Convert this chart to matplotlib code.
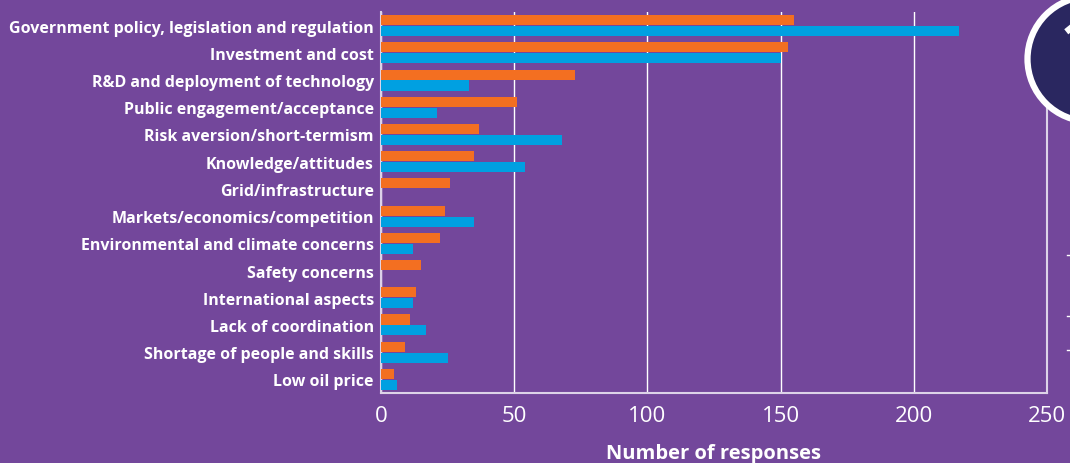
import numpy as np
import matplotlib
matplotlib.use("Agg")
import matplotlib.pyplot as plt
from matplotlib.patches import Circle
from matplotlib.lines import Line2D

categories = ["Government policy, legislation and regulation",
              "Investment and cost",
              "R&D and deployment of technology",
              "Public engagement/acceptance",
              "Risk aversion/short-termism",
              "Knowledge/attitudes",
              "Grid/infrastructure",
              "Markets/economics/competition",
              "Environmental and climate concerns",
              "Safety concerns",
              "International aspects",
              "Lack of coordination",
              "Shortage of people and skills",
              "Low oil price"]
orange_vals = [155, 153, 73, 51, 37, 35, 26, 24, 22, 15, 13, 11, 9, 5]
blue_vals = [217, 150, 33, 21, 68, 54, 0, 35, 12, 0, 12, 17, 25, 6]
xticks = [0, 50, 100, 150, 200, 250]

bg = "#73479b"
orange = "#f36f21"
blue = "#00a0e1"
navy = "#2a2760"
line_col = "#ddd3e8"

plt.rcParams["font.family"] = ["Open Sans", "DejaVu Sans"]

fig = plt.figure(figsize=(10.7, 4.64), dpi=100, facecolor=bg)
ax = fig.add_axes([0.356, 0.1509, 0.6224, 0.8211])
ax.set_facecolor(bg)

y = np.arange(len(categories))
h = 0.37
ax.barh(y - 0.2, orange_vals, height=h, color=orange, zorder=3)
ax.barh(y + 0.2, blue_vals, height=h, color=blue, zorder=3)

ax.set_ylim(len(categories) - 0.5, -0.5)
ax.set_xlim(0, 250)
ax.set_yticks(y)
ax.set_yticklabels(categories, color="white", fontweight="bold", fontsize=11.5)
ax.set_xticks(xticks)
ax.set_xticklabels([str(t) for t in xticks], color="white", fontsize=16)
ax.tick_params(axis="y", length=0, pad=5)
ax.tick_params(axis="x", length=0, pad=9)
ax.grid(axis="x", color="white", lw=1, zorder=1)
ax.set_xlabel("Number of responses", color="white", fontweight="bold",
              fontsize=14.5, labelpad=12)

ax.spines["top"].set_visible(False)
for s in ["left", "bottom", "right"]:
    ax.spines[s].set_color(line_col)
    ax.spines[s].set_linewidth(1.5)

# badge circle partially cut at top-right
tr = fig.dpi_scale_trans
fig.patches.append(Circle((10.90, 4.04), 0.625, transform=tr,
                          facecolor=navy, edgecolor="white", lw=4.5, zorder=10))
fig.text(10.61, 4.47, "1", transform=tr, color="white", fontsize=40,
         fontweight="bold", ha="left", va="top", zorder=11)

for yy in [2.08, 1.47, 1.13]:
    fig.lines.append(Line2D([10.67, 10.70], [yy, yy], transform=tr,
                            color="white", lw=1))

fig.savefig("out.png", dpi=100, facecolor=bg)
